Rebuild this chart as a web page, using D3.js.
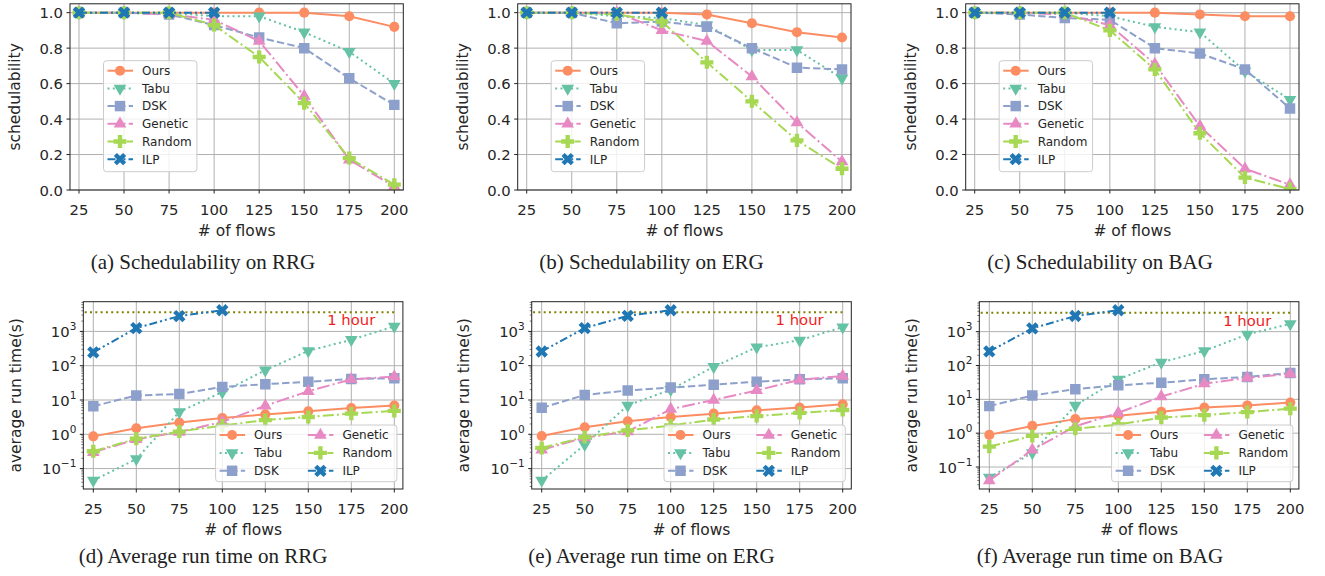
<!DOCTYPE html>
<html>
<head>
<meta charset="utf-8">
<script src="https://cdn.jsdelivr.net/npm/d3@7"></script>
<style>
  body { margin: 0; background: #fff; }
  text { font-family: "DejaVu Sans", sans-serif; fill: #262626; }
  .caption { font-family: "Liberation Serif", "Times New Roman", serif; fill: #222; }
</style>
</head>
<body>
<svg id="chart" width="1325" height="576"></svg>
<script>
var flows = [25, 50, 75, 100, 125, 150, 175, 200];
var ilpFlows = [25, 50, 75, 100];
var methods = ['Ours', 'Tabu', 'DSK', 'Genetic', 'Random', 'ILP'];

// schedulability (rows: Ours, Tabu, DSK, Genetic, Random, ILP)
var schedRRG = [
  [1, 1, 1, 1, 1, 1, 0.98, 0.92],
  [1, 1, 1, 0.98, 0.98, 0.89, 0.78, 0.60],
  [1, 1, 0.99, 0.93, 0.86, 0.80, 0.63, 0.48],
  [1, 1, 0.99, 0.96, 0.84, 0.53, 0.17, 0.02],
  [1, 1, 1, 0.93, 0.75, 0.49, 0.18, 0.03],
  [1, 1, 1, 1]
];
var schedERG = [
  [1, 1, 1, 1, 0.99, 0.94, 0.89, 0.86],
  [1, 1, 0.98, 0.97, 0.93, 0.79, 0.79, 0.63],
  [1, 1, 0.94, 0.95, 0.92, 0.80, 0.69, 0.68],
  [1, 1, 1, 0.90, 0.84, 0.64, 0.38, 0.16],
  [1, 1, 0.99, 0.95, 0.72, 0.50, 0.28, 0.12],
  [1, 1, 1, 1]
];
var schedBAG = [
  [1, 1, 1, 1, 1, 0.99, 0.98, 0.98],
  [1, 1, 1, 0.98, 0.92, 0.89, 0.67, 0.51],
  [1, 0.99, 0.97, 0.96, 0.80, 0.77, 0.68, 0.46],
  [1, 1, 0.99, 0.93, 0.71, 0.36, 0.12, 0.03],
  [1, 1, 1, 0.90, 0.68, 0.32, 0.07, 0.005],
  [1, 1, 1, 1]
];

// average run time in seconds
var timeRRG = [
  [0.87, 1.5, 2.2, 3.0, 3.8, 4.7, 5.8, 6.9],
  [0.045, 0.19, 4.5, 17, 74, 270, 570, 1400],
  [6.6, 13.5, 15, 24, 29, 34, 41, 43],
  [0.30, 0.71, 1.17, 2.3, 6.8, 18, 40, 48],
  [0.32, 0.74, 1.2, 1.8, 2.6, 3.2, 4.0, 4.8],
  [245, 1250, 2800, 4150]
];
var timeERG = [
  [0.89, 1.6, 2.4, 3.2, 4.0, 5.0, 6.0, 7.5],
  [0.045, 0.5, 7, 20, 93, 345, 550, 1340],
  [5.9, 14, 19, 23, 28, 34, 40, 43],
  [0.35, 0.8, 1.2, 5.4, 10, 19, 39, 50],
  [0.40, 0.83, 1.3, 1.8, 2.7, 3.4, 4.2, 5.1],
  [260, 1250, 2850, 4150]
];
var timeBAG = [
  [0.89, 1.64, 2.6, 3.3, 4.3, 5.7, 6.6, 8.0],
  [0.049, 0.26, 6.6, 39, 124, 270, 830, 1700],
  [6.3, 13, 20, 26, 31, 39, 46, 60],
  [0.04, 0.32, 1.6, 4.0, 12, 29, 43, 57],
  [0.40, 0.83, 1.35, 1.8, 2.9, 3.4, 4.2, 5.3],
  [260, 1250, 2900, 4300]
];

var oneHour = 3600;
var captions = [
  '(a) Schedulability on RRG', '(b) Schedulability on ERG', '(c) Schedulability on BAG',
  '(d) Average run time on RRG', '(e) Average run time on ERG', '(f) Average run time on BAG'
];

// styles per method
var colors = ['#fc8d62', '#66c2a5', '#8da0cb', '#e78ac3', '#a6d854', '#1f77b4'];
var dashes = [null, '2,3.3', '7.4,3.2', '12.8,3.2,2,3.2', '11,3.2,2,3.2', '8,3,2,3,2,3'];
var symbols = [
  {type: d3.symbolCircle, size: 80, rot: 0},
  {type: d3.symbolTriangle, size: 70, rot: 180},
  {type: d3.symbolSquare, size: 110, rot: 0},
  {type: d3.symbolTriangle, size: 70, rot: 0},
  {type: d3.symbolCross, size: 95, rot: 0},
  {type: d3.symbolCross, size: 95, rot: 45}
];

var svg = d3.select('#chart');

var panels = [
  {kind: 'sched', data: schedRRG, x25: 79, top: 3.8, bottom: 190},
  {kind: 'sched', data: schedERG, x25: 526.7, top: 3.8, bottom: 190},
  {kind: 'sched', data: schedBAG, x25: 974.7, top: 3.8, bottom: 190},
  {kind: 'time', data: timeRRG, x25: 93.3, top: 301.7, bottom: 489},
  {kind: 'time', data: timeERG, x25: 541.7, top: 301.7, bottom: 489},
  {kind: 'time', data: timeBAG, x25: 989.3, top: 301.7, bottom: 489}
];

var clipId = 0;

function drawPanel(p, idx) {
  var isTime = p.kind === 'time';
  var span = isTime ? 301 : 315.3;
  var x = d3.scaleLinear().domain([25, 200]).range([p.x25, p.x25 + span]);
  var left = isTime ? x(19.2) : x(20);
  var right = x(205);

  var y;
  if (isTime) {
    var all = d3.merge(p.data).map(Math.log10);
    var lo = d3.min(all), hi = d3.max(all);
    var pad = (hi - lo) * 0.05;
    y = d3.scaleLog().domain([Math.pow(10, lo - pad), Math.pow(10, hi + pad)]).range([p.bottom, p.top]);
  } else {
    y = d3.scaleLinear().domain([0, 1.05]).range([p.bottom, p.top]);
  }

  var g = svg.append('g');
  var id = 'clip' + (clipId++);
  g.append('clipPath').attr('id', id).append('rect')
    .attr('x', left).attr('y', p.top).attr('width', right - left).attr('height', p.bottom - p.top);

  var yTicks = isTime ? [0.1, 1, 10, 100, 1000] : [0, 0.2, 0.4, 0.6, 0.8, 1.0];

  // grid
  g.selectAll('.gx').data(flows).enter().append('line')
    .attr('x1', d => x(d)).attr('x2', d => x(d)).attr('y1', p.top).attr('y2', p.bottom)
    .attr('stroke', '#b0b0b0').attr('stroke-width', 1);
  g.selectAll('.gy').data(yTicks).enter().append('line')
    .attr('x1', left).attr('x2', right).attr('y1', d => y(d)).attr('y2', d => y(d))
    .attr('stroke', '#b0b0b0').attr('stroke-width', 1);

  var plot = g.append('g').attr('clip-path', 'url(#' + id + ')');

  if (isTime) {
    plot.append('line')
      .attr('x1', x(20)).attr('x2', x(200)).attr('y1', y(oneHour)).attr('y2', y(oneHour))
      .attr('stroke', '#808000').attr('stroke-width', 2).attr('stroke-dasharray', '2,3.3');
  }

  // series
  p.data.forEach(function(vals, i) {
    var xs = i === 5 ? ilpFlows : flows;
    var pts = vals.map((v, j) => [x(xs[j]), y(v)]);
    plot.append('path')
      .attr('d', d3.line()(pts))
      .attr('fill', 'none')
      .attr('stroke', colors[i])
      .attr('stroke-width', 2)
      .attr('stroke-dasharray', dashes[i]);
    var sym = d3.symbol().type(symbols[i].type).size(symbols[i].size);
    plot.selectAll('.m' + i).data(pts).enter().append('path')
      .attr('d', sym)
      .attr('transform', d => 'translate(' + d + ')rotate(' + symbols[i].rot + ')')
      .attr('fill', colors[i]);
  });

  if (isTime) {
    g.append('text')
      .attr('x', x(161)).attr('y', y(1500))
      .attr('font-size', 14.8).style('fill', '#f01e1e')
      .text('1 hour');
  }

  // frame
  g.append('rect')
    .attr('x', left).attr('y', p.top).attr('width', right - left).attr('height', p.bottom - p.top)
    .attr('fill', 'none').attr('stroke', '#222').attr('stroke-width', 1);

  // x ticks
  g.selectAll('.tx').data(flows).enter().append('line')
    .attr('x1', d => x(d)).attr('x2', d => x(d)).attr('y1', p.bottom).attr('y2', p.bottom + 3.5)
    .attr('stroke', '#222');
  g.selectAll('.lx').data(flows).enter().append('text')
    .attr('x', d => x(d)).attr('y', p.bottom + 25)
    .attr('text-anchor', 'middle').attr('font-size', 14.8)
    .text(d => d);
  g.append('text')
    .attr('x', (left + right) / 2).attr('y', p.bottom + 46)
    .attr('text-anchor', 'middle').attr('font-size', 15.5)
    .text('# of flows');

  // y ticks
  g.selectAll('.ty').data(yTicks).enter().append('line')
    .attr('x1', left - 3.5).attr('x2', left).attr('y1', d => y(d)).attr('y2', d => y(d))
    .attr('stroke', '#222');
  if (isTime) {
    var minor = [];
    var dom = y.domain();
    [-2, -1, 0, 1, 2, 3].forEach(function(e) {
      for (var k = 2; k <= 9; k++) {
        var v = k * Math.pow(10, e);
        if (v > dom[0] && v < dom[1]) minor.push(v);
      }
    });
    g.selectAll('.tmy').data(minor).enter().append('line')
      .attr('x1', left - 2).attr('x2', left).attr('y1', d => y(d)).attr('y2', d => y(d))
      .attr('stroke', '#222').attr('stroke-width', 0.6);
    var lab = g.selectAll('.ly').data(yTicks).enter().append('text')
      .attr('x', left - 7).attr('y', d => y(d) + 5.5)
      .attr('text-anchor', 'end').attr('font-size', 14.8);
    lab.append('tspan').text('10');
    lab.append('tspan').attr('dy', -7).attr('font-size', 10.5)
      .text(d => String(Math.round(Math.log10(d))).replace('-', '\u2212'));
  } else {
    g.selectAll('.ly').data(yTicks).enter().append('text')
      .attr('x', left - 7).attr('y', d => y(d) + 5.5)
      .attr('text-anchor', 'end').attr('font-size', 14.8)
      .text(d => d.toFixed(1));
  }
  var ylx = isTime ? left - 68 : left - 55;
  g.append('text')
    .attr('transform', 'translate(' + [ylx + 5.5, (p.top + p.bottom) / 2] + ')rotate(-90)')
    .attr('text-anchor', 'middle').attr('font-size', 15.5)
    .text(isTime ? 'average run time(s)' : 'schedulability');

  drawLegend(g, p, x, left, right, isTime);

  // caption
  svg.append('text').attr('class', 'caption')
    .attr('x', 203 + 448.5 * (idx % 3)).attr('y', isTime ? 563 : 268.5)
    .attr('text-anchor', 'middle').attr('font-size', 21)
    .text(captions[idx]);
}

function drawLegend(g, p, x, left, right, isTime) {
  var bw, bh, bx, by, rows, items;
  if (isTime) {
    bw = 181.3; bh = 56.7;
    bx = right - 6 - bw; by = p.bottom - 7.3 - bh;
    items = methods.map((m, i) => ({i: i, cx: bx + (i < 3 ? 0 : 88.3), cy: by + 10 + (i % 3) * 17.9}));
  } else {
    bw = 93.4; bh = 111;
    bx = p.x25 + 24.5; by = 60.7;
    items = methods.map((m, i) => ({i: i, cx: bx, cy: by + 10 + i * 17.7}));
  }
  var lg = g.append('g');
  lg.append('rect')
    .attr('x', bx).attr('y', by).attr('width', bw).attr('height', bh)
    .attr('rx', 3).attr('fill', 'white').attr('fill-opacity', 0.8)
    .attr('stroke', '#cccccc').attr('stroke-width', 1);
  items.forEach(function(it) {
    var i = it.i;
    lg.append('line')
      .attr('x1', it.cx + 4).attr('x2', it.cx + 29.5).attr('y1', it.cy).attr('y2', it.cy)
      .attr('stroke', colors[i]).attr('stroke-width', 2)
      .attr('stroke-dasharray', dashes[i]);
    lg.append('path')
      .attr('d', d3.symbol().type(symbols[i].type).size(symbols[i].size)())
      .attr('transform', 'translate(' + [it.cx + 16.5, it.cy] + ')rotate(' + symbols[i].rot + ')')
      .attr('fill', colors[i]);
    lg.append('text')
      .attr('x', it.cx + 38.5).attr('y', it.cy + 4.3)
      .attr('font-size', 12)
      .text(methods[i]);
  });
}

panels.forEach(drawPanel);
</script>
</body>
</html>
